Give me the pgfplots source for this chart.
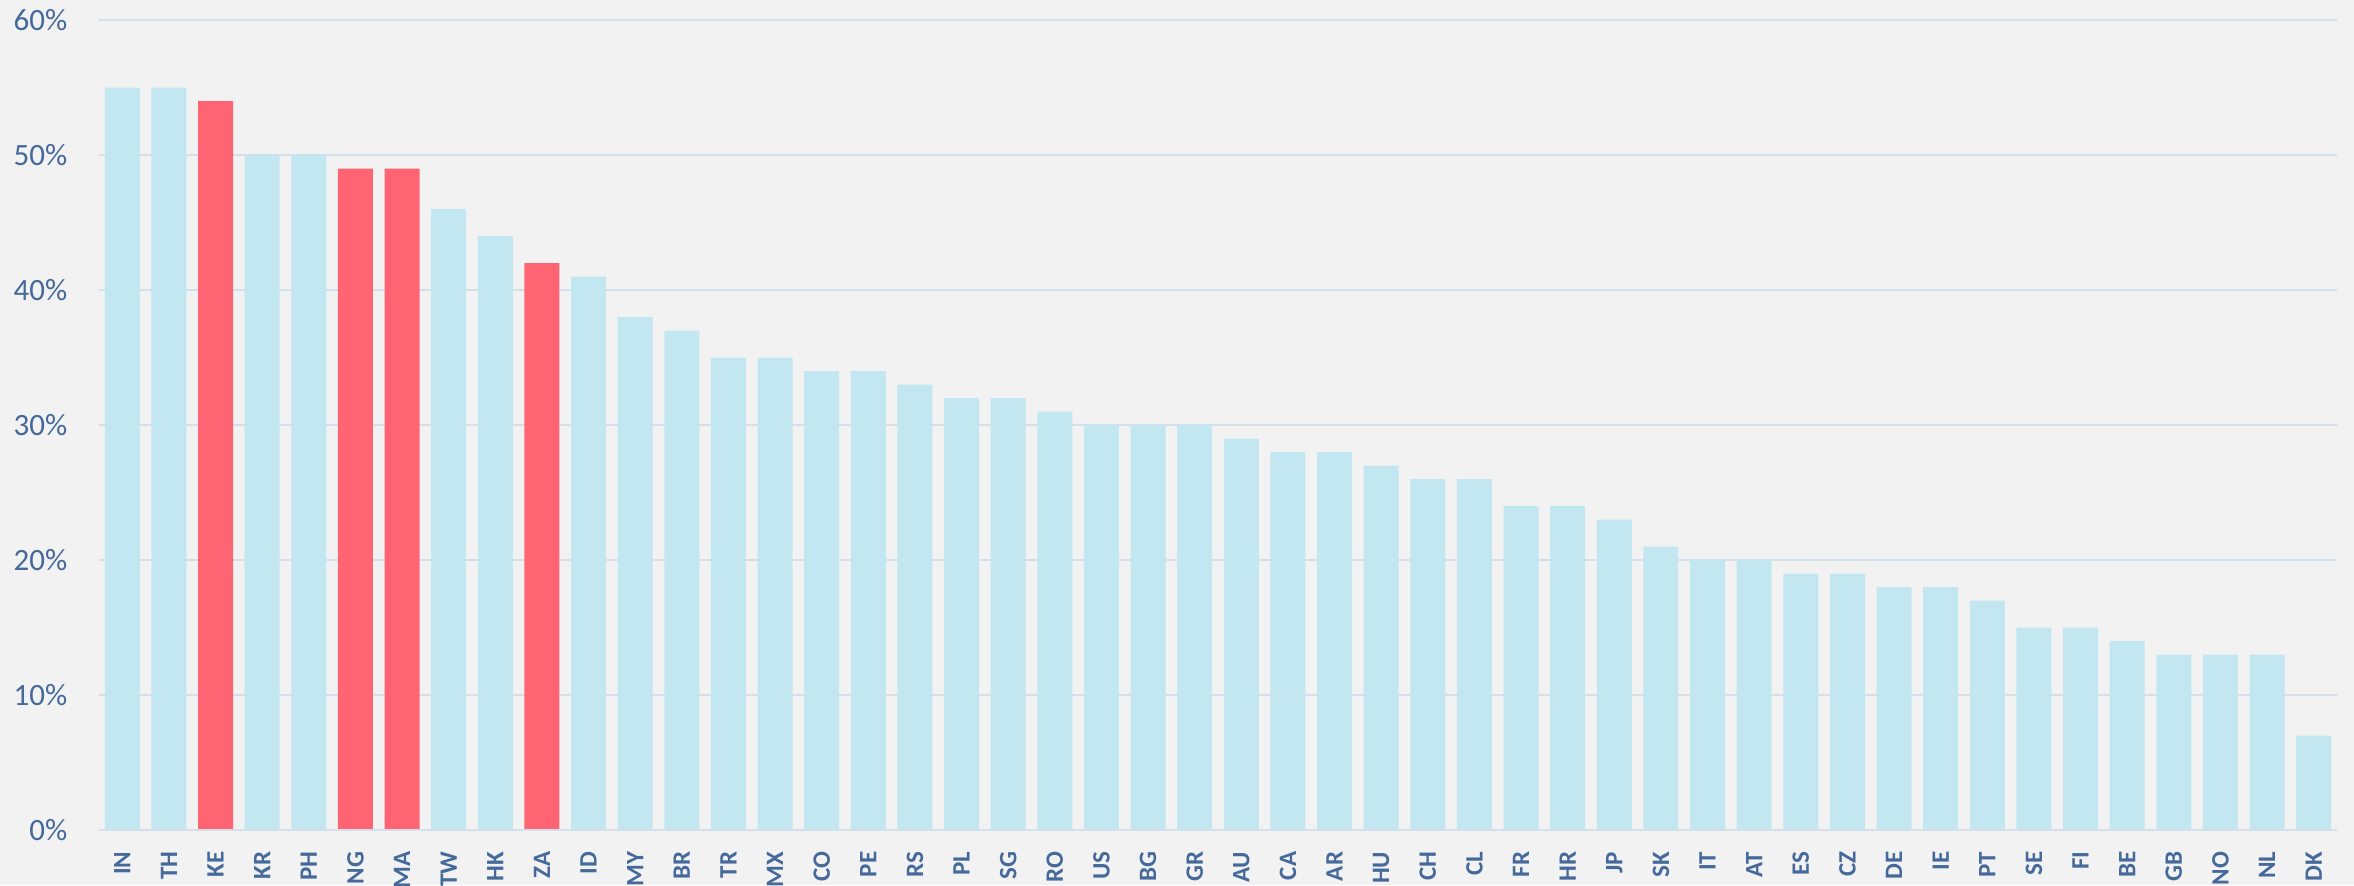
\documentclass[border=0pt]{standalone}
\usepackage{pgfplots}
\pgfplotsset{compat=1.18}
\usepackage{fontspec}
\setmainfont{Carlito}
\definecolor{bg}{HTML}{F2F2F2}
\definecolor{barblue}{HTML}{C3E7F0}
\definecolor{barred}{HTML}{FF6473}
\definecolor{txt}{HTML}{44699A}
\definecolor{gridc}{HTML}{D3DFEA}
\begin{document}
\begin{tikzpicture}
\fill[bg] (-29.7pt,-16.5pt) rectangle (676.5pt,249pt);
\begin{axis}[
  at={(0,0)}, anchor=south west,
  scale only axis,
  width=671.4pt, height=243pt,
  xmin=-0.5, xmax=47.5,
  ymin=0, ymax=60,
  axis line style={draw=none},
  ymajorgrids,
  grid style={gridc, line width=0.6pt},
  major tick length=0pt,
  ytick={0,10,20,30,40,50,60},
  yticklabels={0\%,10\%,20\%,30\%,40\%,50\%,60\%},
  yticklabel style={font=\fontsize{9.3}{10}\selectfont, text=txt, xshift=-6pt},
  xtick={0,...,47},
  xticklabels={IN,TH,KE,KR,PH,NG,MA,TW,HK,ZA,ID,MY,BR,TR,MX,CO,PE,RS,PL,SG,RO,US,BG,GR,AU,CA,AR,HU,CH,CL,FR,HR,JP,SK,IT,AT,ES,CZ,DE,IE,PT,SE,FI,BE,GB,NO,NL,DK},
  xticklabel style={font=\fontsize{7.5}{8}\selectfont\bfseries, text=txt, rotate=90, anchor=east, xshift=-3pt},
  ybar, bar width=0.75, bar shift=0pt,
  /pgf/number format/assume math mode=true,
]
\addplot[fill=barblue, draw=none] coordinates {
(0,55) (1,55) (3,50) (4,50) (7,46) (8,44) (10,41) (11,38) (12,37) (13,35) (14,35)
(15,34) (16,34) (17,33) (18,32) (19,32) (20,31) (21,30) (22,30) (23,30) (24,29)
(25,28) (26,28) (27,27) (28,26) (29,26) (30,24) (31,24) (32,23) (33,21) (34,20)
(35,20) (36,19) (37,19) (38,18) (39,18) (40,17) (41,15) (42,15) (43,14) (44,13)
(45,13) (46,13) (47,7)};
\addplot[fill=barred, draw=none] coordinates {(2,54) (5,49) (6,49) (9,42)};
\draw[gridc, line width=0.6pt] (axis cs:-0.5,0) -- (axis cs:47.5,0);
\end{axis}
\pgfresetboundingbox
\path[use as bounding box] (-29.7pt,-16.5pt) rectangle (676.5pt,249pt);
\end{tikzpicture}
\end{document}
